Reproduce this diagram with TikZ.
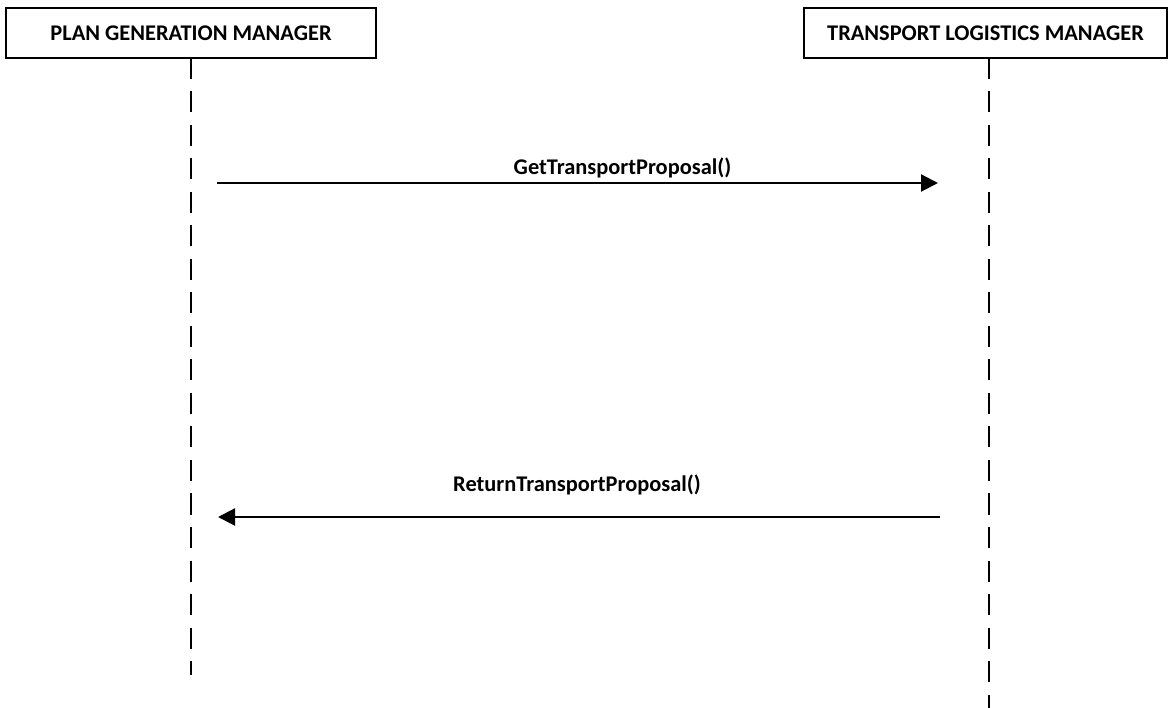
\documentclass[tikz,border=0pt]{standalone}
\usepackage{fontspec}
\setmainfont{Carlito}
\usetikzlibrary{arrows.meta}
\begin{document}
\begin{tikzpicture}[x=1pt,y=-1pt,
  actor/.style={draw,line width=1.3pt,minimum width=370pt,minimum height=50pt,font=\fontsize{22.4}{26}\selectfont\bfseries,inner sep=0pt},
  lifeline/.style={line width=2pt,dash pattern=on 21pt off 12.5pt},
  msg/.style={line width=2.2pt,-{Triangle[length=17pt,width=17pt]}},
  msglabel/.style={font=\fontsize{22.4}{26}\selectfont\bfseries,anchor=base}]
\useasboundingbox (0,0) rectangle (1176,708);
% participants
\node[actor] (pgm) at (191,33) {PLAN GENERATION MANAGER};
\node[actor,minimum width=363pt] (tlm) at (985.5,33) {TRANSPORT LOGISTICS MANAGER};
% lifelines
\coordinate (pgmTop) at (191,58);
\coordinate (tlmTop) at (989,58);
\coordinate (pgmEnd) at (191,675);
\coordinate (tlmEnd) at (989,712);
\draw[lifeline] (pgmTop) -- (pgmEnd);
\draw[lifeline] (tlmTop) -- (tlmEnd);
% messages
\coordinate (g1) at (217,183);
\coordinate (g2) at (938,183);
\coordinate (r1) at (940,517);
\coordinate (r2) at (218,517);
\draw[msg] (g1) -- node[msglabel,yshift=8pt,xshift=45pt] {GetTransportProposal()} (g2);
\draw[msg] (r1) -- node[msglabel,yshift=25pt,xshift=-2pt] {ReturnTransportProposal()} (r2);
\end{tikzpicture}
\end{document}
